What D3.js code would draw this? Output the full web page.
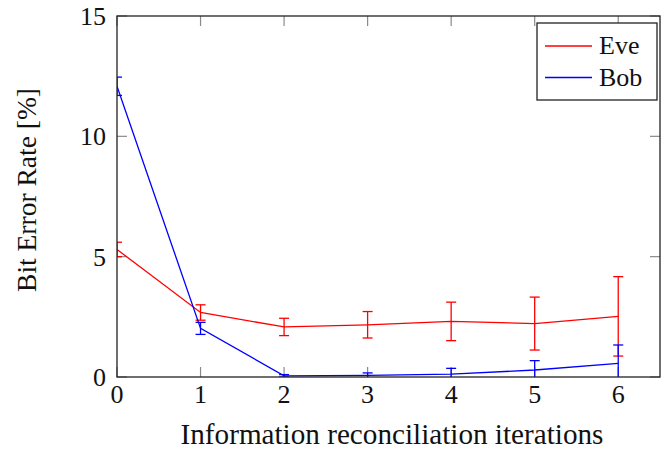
<!DOCTYPE html>
<html><head><meta charset="utf-8">
<script src="https://cdn.jsdelivr.net/npm/d3@7"></script>
<style>body{margin:0;background:#fff}svg{display:block}</style>
</head><body><svg id="c" width="661" height="449"></svg>
<script>
const iterations = [0, 1, 2, 3, 4, 5, 6];
const eveMean = [5.3, 2.68, 2.08, 2.17, 2.31, 2.22, 2.52];
const eveErr  = [0.3, 0.32, 0.36, 0.55, 0.80, 1.10, 1.65];
const bobMean = [12.08, 2.02, 0.05, 0.07, 0.12, 0.29, 0.57];
const bobErr  = [0.38, 0.25, 0.05, 0.10, 0.24, 0.39, 0.76];
const xTicks = [0, 1, 2, 3, 4, 5, 6];
const yTicks = [0, 5, 10, 15];
const seriesNames = ["Eve", "Bob"];
const seriesColors = ["#ff0000", "#0000ff"];
const xLabel = "Information reconciliation iterations";
const yLabel = "Bit Error Rate [%]";

const FONT = "'Liberation Serif', 'Times New Roman', serif";
const svg = d3.select("#c");
const L = 117, R = 660, T = 16, B = 377;
const x = d3.scaleLinear().domain([0, 6.5]).range([L, R]);
const y = d3.scaleLinear().domain([0, 15]).range([B, T]);
const tickLen = 10;

function txt(g) { return g.append("text").style("font-family", FONT).attr("fill", "#111"); }
function fitWidth(t, target) {
  const w = t.node().getComputedTextLength();
  const fs = parseFloat(t.attr("font-size"));
  t.attr("font-size", fs * target / w);
}

// ticks (inside, gray) on all four sides
const tg = svg.append("g").attr("stroke", "#8a8a8a").attr("stroke-width", 1.2);
xTicks.forEach(v => {
  tg.append("line").attr("x1", x(v)).attr("x2", x(v)).attr("y1", B).attr("y2", B - tickLen);
  tg.append("line").attr("x1", x(v)).attr("x2", x(v)).attr("y1", T).attr("y2", T + tickLen);
});
yTicks.forEach(v => {
  tg.append("line").attr("x1", L).attr("x2", L + tickLen).attr("y1", y(v)).attr("y2", y(v));
  tg.append("line").attr("x1", R).attr("x2", R - tickLen).attr("y1", y(v)).attr("y2", y(v));
});

svg.append("clipPath").attr("id", "clip").append("rect")
  .attr("x", L).attr("y", T).attr("width", R - L).attr("height", B - T);

const plot = svg.append("g").attr("clip-path", "url(#clip)");
const data = [
  {name: seriesNames[0], color: seriesColors[0], mean: eveMean, err: eveErr},
  {name: seriesNames[1], color: seriesColors[1], mean: bobMean, err: bobErr}
];
const line = d3.line().x((d, i) => x(iterations[i])).y(d => y(d));
const cap = 5;
data.forEach(s => {
  const g = plot.append("g").attr("stroke", s.color).attr("fill", "none").attr("stroke-width", 1.3);
  g.append("path").attr("d", line(s.mean));
  s.mean.forEach((m, i) => {
    const xi = x(iterations[i]);
    const y1 = y(m - s.err[i]), y2 = y(m + s.err[i]);
    g.append("line").attr("x1", xi).attr("x2", xi).attr("y1", y1).attr("y2", y2);
    g.append("line").attr("x1", xi - cap).attr("x2", xi + cap).attr("y1", y1).attr("y2", y1);
    g.append("line").attr("x1", xi - cap).attr("x2", xi + cap).attr("y1", y2).attr("y2", y2);
  });
});

// frame
svg.append("rect").attr("x", L).attr("y", T).attr("width", R - L).attr("height", B - T)
  .attr("fill", "none").attr("stroke", "#222").attr("stroke-width", 1.3);

// tick labels
const fs = 26;
xTicks.forEach(v => {
  txt(svg).attr("x", x(v)).attr("y", 403).attr("text-anchor", "middle")
    .attr("font-size", fs).text(v);
});
yTicks.forEach(v => {
  txt(svg).attr("x", 106).attr("y", y(v) + 9).attr("text-anchor", "end")
    .attr("font-size", fs).text(v);
});

// axis labels
const xl = txt(svg).attr("x", 392).attr("y", 444).attr("text-anchor", "middle")
  .attr("font-size", 24).text(xLabel);
fitWidth(xl, 423);
const yl = txt(svg).attr("transform", "translate(36,190) rotate(-90)")
  .attr("text-anchor", "middle").attr("font-size", 24).text(yLabel);
fitWidth(yl, 204);

// legend
const lg = svg.append("g");
lg.append("rect").attr("x", 537).attr("y", 23).attr("width", 120).attr("height", 77)
  .attr("fill", "#fff").attr("stroke", "#222").attr("stroke-width", 1.3);
data.forEach((s, i) => {
  const ly = 46 + i * 31.5;
  lg.append("line").attr("x1", 545).attr("x2", 592).attr("y1", ly).attr("y2", ly)
    .attr("stroke", s.color).attr("stroke-width", 1.3);
  txt(lg).attr("x", 599).attr("y", ly + 8).attr("font-size", 26).text(s.name);
});
</script></body></html>
